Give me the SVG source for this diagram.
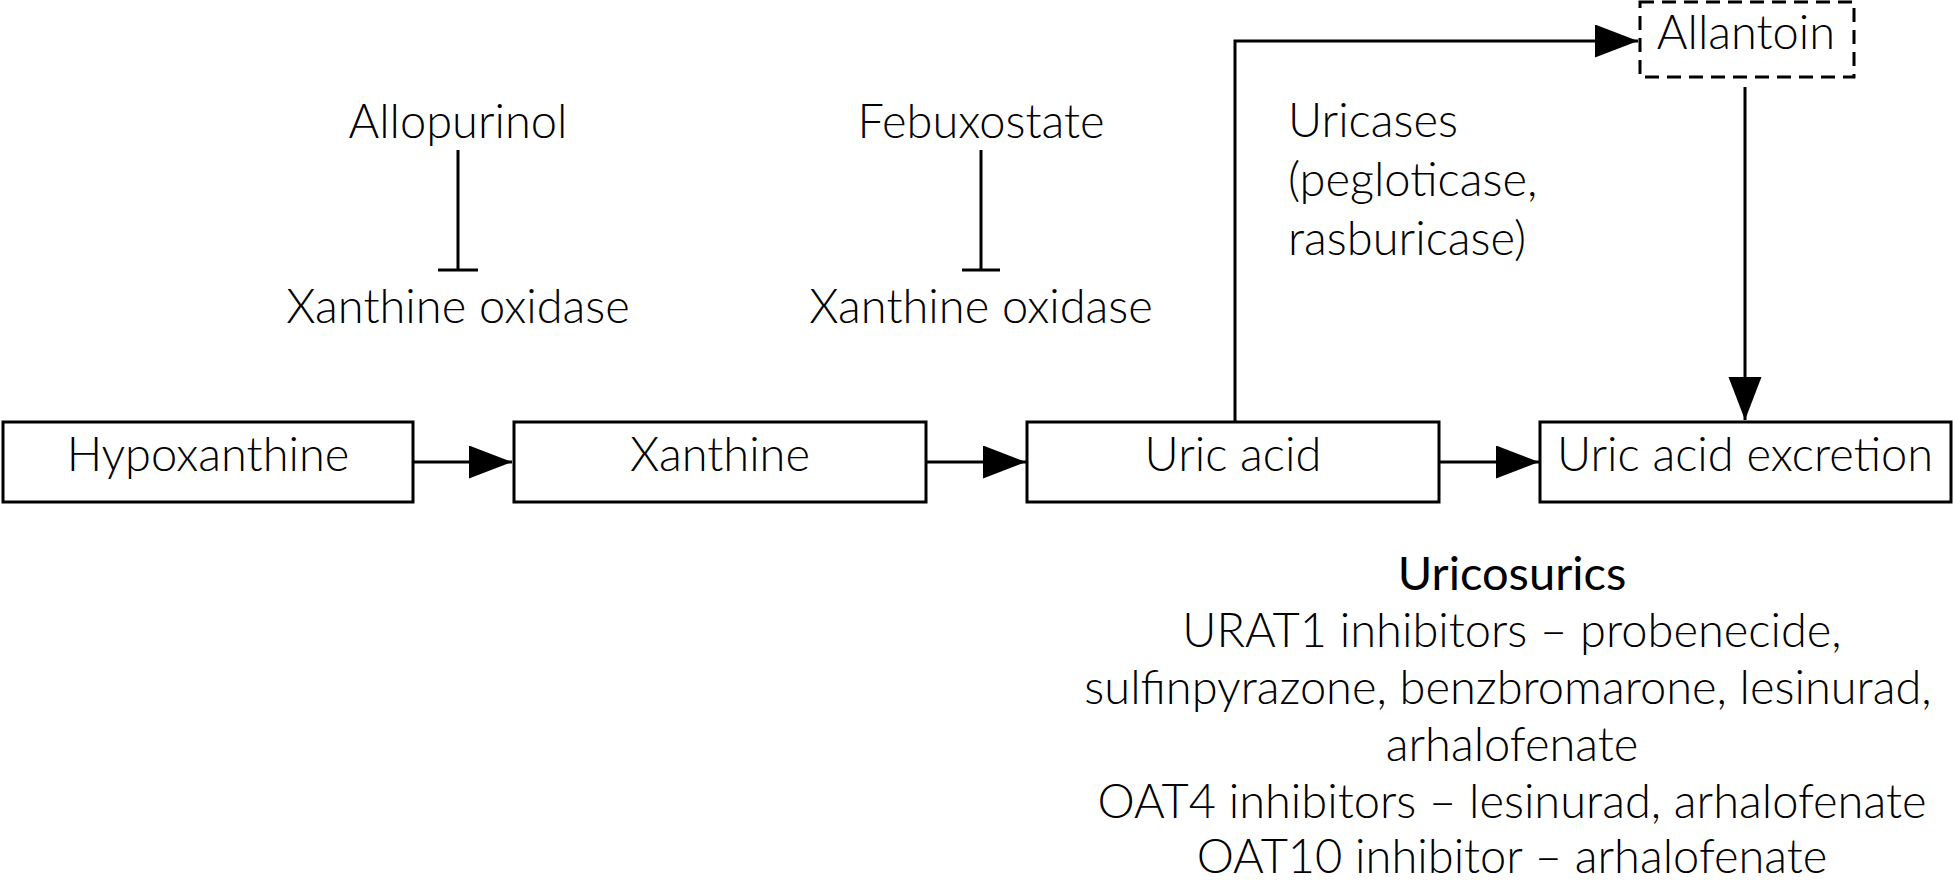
<svg xmlns="http://www.w3.org/2000/svg" width="1953" height="885" viewBox="0 0 1953 885">
<style>
text{font-family:"Lato","Liberation Sans",sans-serif;font-weight:300;font-size:47px;fill:#000}
.c{text-anchor:middle}
.box{fill:#fff;stroke:#000;stroke-width:3}
.dash{fill:#fff;stroke:#000;stroke-width:3;stroke-dasharray:14 8}
.ln{fill:none;stroke:#000;stroke-width:3}
.b{font-weight:400}
</style>
<defs>
<marker id="ah" markerUnits="userSpaceOnUse" markerWidth="44" markerHeight="34" refX="43" refY="16.5" orient="auto">
<path d="M0,0 L43,16.5 L0,33 z" fill="#000"/>
</marker>
</defs>
<rect width="1953" height="885" fill="#fff"/>
<g id="connectors">
<path class="ln" d="M413,462 H512" marker-end="url(#ah)"/>
<path class="ln" d="M926,462 H1026" marker-end="url(#ah)"/>
<path class="ln" d="M1439,462 H1539" marker-end="url(#ah)"/>
<path class="ln" d="M1235,421 V41 H1638" marker-end="url(#ah)"/>
<path class="ln" d="M1745,87 V420" marker-end="url(#ah)"/>
<path class="ln" d="M458,150 V270 M438,270 H478"/>
<path class="ln" d="M981,150 V270 M962,270 H1000"/>
</g>
<g id="hypoxanthine">
<rect class="box" x="3" y="422" width="410" height="80"/>
<text class="c" x="208" y="471">Hypoxanthine</text>
</g>
<g id="xanthine">
<rect class="box" x="514" y="422" width="412" height="80"/>
<text class="c" x="720" y="471">Xanthine</text>
</g>
<g id="uric-acid">
<rect class="box" x="1027" y="422" width="412" height="80"/>
<text class="c" x="1233" y="471">Uric acid</text>
</g>
<g id="uric-acid-excretion">
<rect class="box" x="1540" y="422" width="411" height="80"/>
<text class="c" x="1745" y="471">Uric acid excretion</text>
</g>
<g id="allantoin">
<rect class="dash" x="1640" y="2" width="214" height="75"/>
<text class="c" x="1746" y="49">Allantoin</text>
</g>
<g id="allopurinol">
<text class="c" x="458" y="138">Allopurinol</text>
<text class="c" x="458" y="323">Xanthine oxidase</text>
</g>
<g id="febuxostate">
<text class="c" x="981" y="138">Febuxostate</text>
<text class="c" x="981" y="323">Xanthine oxidase</text>
</g>
<g id="uricases">
<text x="1288" y="137">Uricases</text>
<text x="1288" y="196">(pegloticase,</text>
<text x="1288" y="255">rasburicase)</text>
</g>
<g id="uricosurics">
<text class="c b" x="1512" y="590">Uricosurics</text>
<text class="c" x="1512" y="647">URAT1 inhibitors – probenecide,</text>
<text class="c" x="1508" y="704">sulfinpyrazone, benzbromarone, lesinurad,</text>
<text class="c" x="1512" y="761">arhalofenate</text>
<text class="c" x="1512" y="818">OAT4 inhibitors – lesinurad, arhalofenate</text>
<text class="c" x="1512" y="873">OAT10 inhibitor – arhalofenate</text>
</g>
</svg>
